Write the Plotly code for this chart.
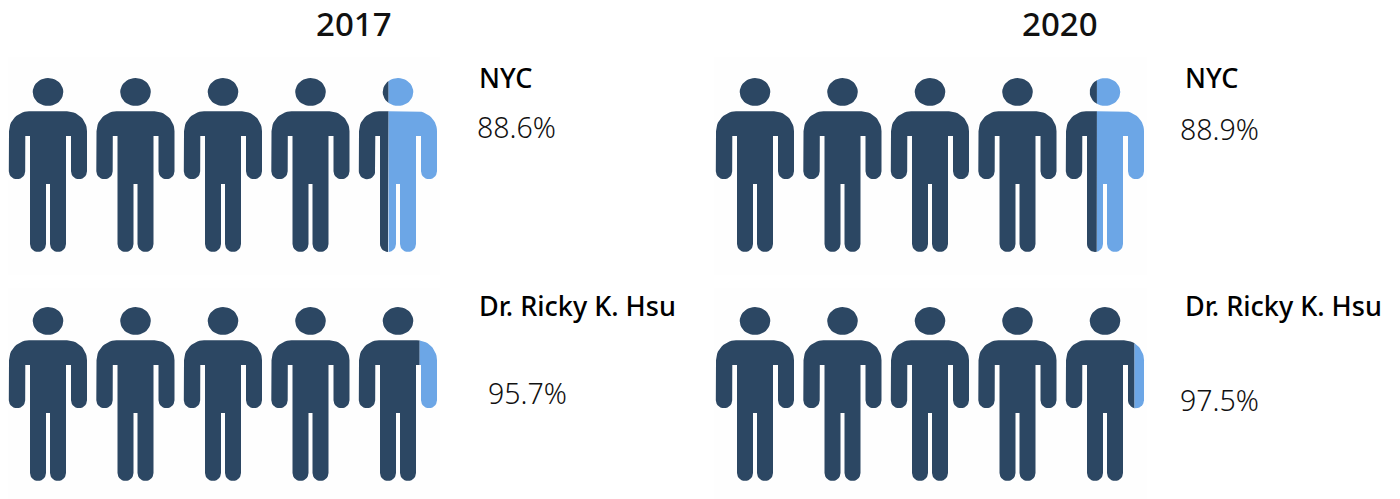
import math
import plotly.graph_objects as go

years = ["2017", "2020"]
groups = ["NYC", "Dr. Ricky K. Hsu"]
values = {
    "2017": [88.6, 95.7],
    "2020": [88.9, 97.5],
}
labels = {
    "2017": ["88.6%", "95.7%"],
    "2020": ["88.9%", "97.5%"],
}
PEOPLE = 5
DARK = "#2C4763"
LIGHT = "#6CA6E6"
PANEL = "#FEFEFE"
W, H = 1400, 499
FONT = "Noto Sans"

def fx(px):
    return px / W

def fy(py):
    return 1 - py / H

# ---- pictogram glyph, in glyph units (78 wide, 174 tall, y downward) ----
def arc(cx, cy, rx, ry, a0, a1, n=14):
    return [(cx + rx * math.cos(math.radians(a0 + (a1 - a0) * i / n)),
             cy + ry * math.sin(math.radians(a0 + (a1 - a0) * i / n))) for i in range(n + 1)]

HEAD = arc(39, 14, 15.3, 14, 0, 360, 40)
BODY = (
    arc(20, 53.3, 20, 20, 180, 270) + arc(58, 53.3, 20, 20, 270, 360)
    + arc(70, 93.3, 8, 8, 0, 180)
    + [(62, 58), (57, 58)]
    + arc(49, 166, 8, 8, 0, 180)
    + [(41, 106), (37, 106)]
    + arc(29, 166, 8, 8, 0, 180)
    + [(21, 58), (16.3, 58)]
    + arc(8, 93.3, 8.2, 8, 0, 180)
)

def clip(poly, limit, keep_left):
    out = []
    inside = (lambda p: p[0] <= limit) if keep_left else (lambda p: p[0] >= limit)
    for i, cur in enumerate(poly):
        prev = poly[i - 1]
        if inside(cur) != inside(prev):
            t = (limit - prev[0]) / (cur[0] - prev[0])
            out.append((limit, prev[1] + t * (cur[1] - prev[1])))
        if inside(cur):
            out.append(cur)
    return out

# pixel frame of each panel (axis 0-100 % across, glyph height down)
COL_X = {"2017": (1.0, 438.5), "2020": (708.0, 1145.5)}
ROW_Y = {"NYC": (78.0, 252.0), "Dr. Ricky K. Hsu": (307.0, 481.0)}
GLYPH_LEFT_OFFSET = 8.0  # pixels from cell start to glyph start
PANEL_X = {"2017": (8, 440), "2020": (714, 1147)}
PANEL_Y = {"NYC": (57, 275), "Dr. Ricky K. Hsu": (288, 499)}

fig = go.Figure()
n_axis = 0
for year in years:
    x0, x1 = COL_X[year]
    span = x1 - x0
    for g, group in enumerate(groups):
        y0, y1 = ROW_Y[group]
        n_axis += 1
        sfx = "" if n_axis == 1 else str(n_axis)
        fig.update_layout({
            f"xaxis{sfx}": dict(domain=[fx(x0), fx(x1)], range=[0, 100], visible=False,
                                fixedrange=True, anchor=f"y{sfx}"),
            f"yaxis{sfx}": dict(domain=[fy(y1), fy(y0)], range=[174, 0], visible=False,
                                fixedrange=True, anchor=f"x{sfx}"),
        })
        fig.add_shape(type="rect", xref="paper", yref="paper", layer="below",
                      x0=fx(PANEL_X[year][0]), x1=fx(PANEL_X[year][1]),
                      y0=fy(PANEL_Y[group][1]), y1=fy(PANEL_Y[group][0]),
                      fillcolor=PANEL, line=dict(width=0))
        v = values[year][g]
        dark_x, dark_y, light_x, light_y = [], [], [], []
        for i in range(PEOPLE):
            cell = 100.0 * i / PEOPLE
            for part in (HEAD, BODY):
                pts = [(cell + (px + GLYPH_LEFT_OFFSET) * 100.0 / span, py) for px, py in part]
                for keep_left, xs, ys in ((True, dark_x, dark_y), (False, light_x, light_y)):
                    c = clip(pts, v, keep_left)
                    if c:
                        xs += [p[0] for p in c] + [c[0][0], None]
                        ys += [p[1] for p in c] + [c[0][1], None]
        for xs, ys, col in ((dark_x, dark_y, DARK), (light_x, light_y, LIGHT)):
            fig.add_trace(go.Scatter(x=xs, y=ys, mode="lines", fill="toself", fillcolor=col,
                                     line=dict(width=0, color=col), hoverinfo="skip",
                                     showlegend=False, xaxis=f"x{sfx}", yaxis=f"y{sfx}",
                                     cliponaxis=False))

def text(s, x, y, size, weight=400, color="#111111"):
    fig.add_annotation(text=s, xref="paper", yref="paper", x=fx(x), y=fy(y), showarrow=False,
                       xanchor="left", yanchor="middle", borderpad=0, borderwidth=0,
                       font=dict(family=FONT, size=size, color=color, weight=weight))

title_x = {"2017": 316, "2020": 1022}
name_x = {"2017": 479, "2020": 1185}
name_y = {"NYC": 77, "Dr. Ricky K. Hsu": 305}
pct_pos = {("2017", 0): (477, 127), ("2017", 1): (488, 393),
           ("2020", 0): (1180, 129), ("2020", 1): (1180, 400)}
for year in years:
    text(year, title_x[year], 23, 33, 500)
    for g, group in enumerate(groups):
        text(group, name_x[year], name_y[group], 27, 500, "#000000")
        px_, py_ = pct_pos[(year, g)]
        text(labels[year][g], px_, py_, 28.5, 300, "#111111")

fig.update_layout(width=W, height=H, margin=dict(l=0, r=0, t=0, b=0), autosize=False,
                  paper_bgcolor="white", plot_bgcolor="rgba(0,0,0,0)", showlegend=False)
fig.write_html("out.html", config={"displayModeBar": False},
               post_script="document.body.style.margin='0';document.documentElement.style.overflow='hidden';")
